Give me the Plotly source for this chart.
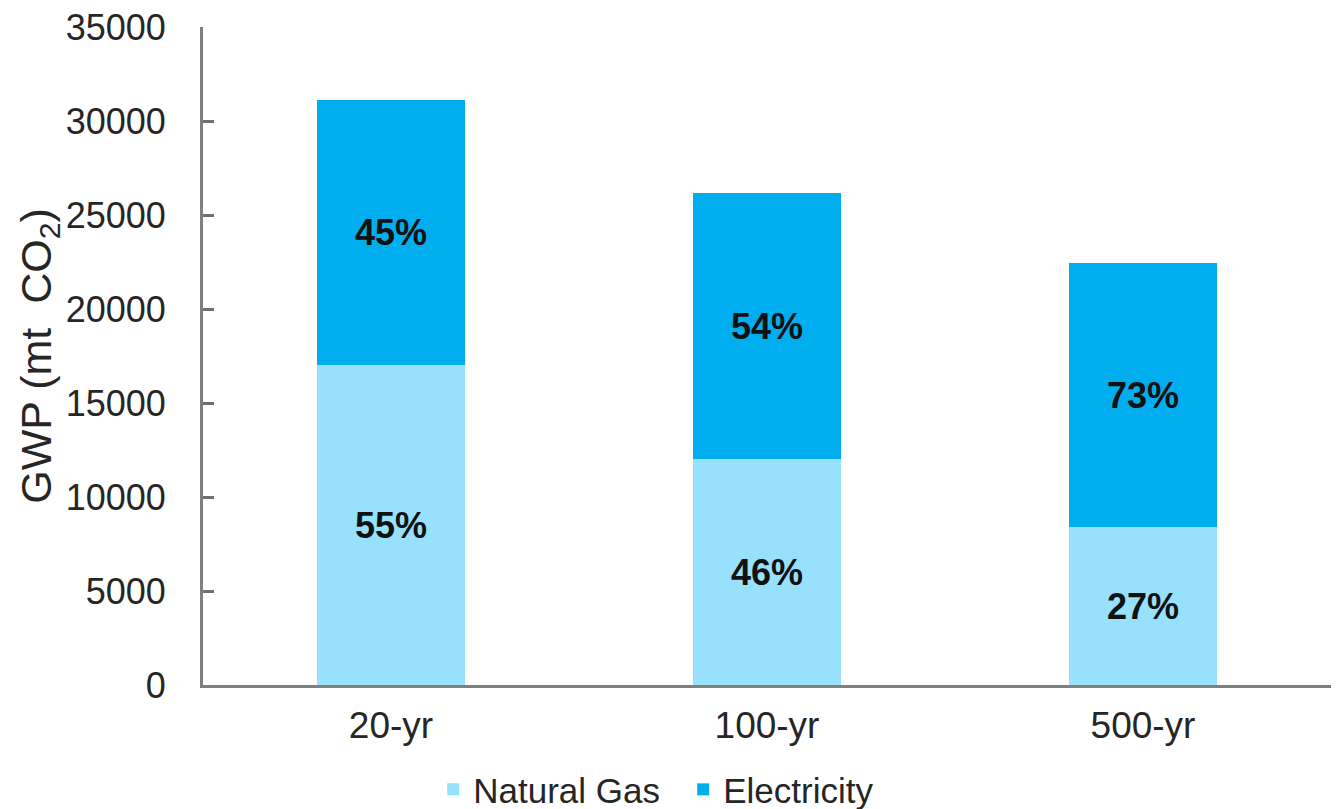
import plotly.graph_objects as go

categories = ["20-yr", "100-yr", "500-yr"]
natural_gas = [17000, 12000, 8400]
electricity = [14100, 14150, 14050]
ng_labels = ["55%", "46%", "27%"]
el_labels = ["45%", "54%", "73%"]

FONT = "Liberation Sans, Arial, sans-serif"

fig = go.Figure()
fig.add_trace(go.Bar(
    name="Natural Gas", x=categories, y=natural_gas, text=ng_labels,
    marker=dict(color="#97E1FD", line=dict(width=0)),
    textposition="inside", insidetextanchor="middle",
    textfont=dict(family=FONT, size=36, color="#111111", weight="bold"),
))
fig.add_trace(go.Bar(
    name="Electricity", x=categories, y=electricity, text=el_labels,
    marker=dict(color="#00AEEF", line=dict(width=0)),
    textposition="inside", insidetextanchor="middle",
    textfont=dict(family=FONT, size=36, color="#111111", weight="bold"),
))

fig.update_layout(
    barmode="stack",
    bargap=0.604,
    width=1337, height=809,
    margin=dict(l=203, r=6, t=27, b=124, autoexpand=False),
    paper_bgcolor="white", plot_bgcolor="white",
    font=dict(family=FONT, size=36, color="#262626"),
    uniformtext=dict(mode=False),
    showlegend=True,
    legend=dict(
        orientation="h", x=0.511, xref="container", xanchor="center",
        y=0.024, yref="container", yanchor="middle",
        font=dict(family=FONT, size=35, color="#262626"),
        itemwidth=30, traceorder="normal",
        entrywidth=205, entrywidthmode="pixels",
    ),
    xaxis=dict(
        showline=True, linecolor="#7f7f7f", linewidth=3,
        ticks="", showgrid=False, ticklabelstandoff=6,
        tickfont=dict(size=37), automargin=False,
    ),
    yaxis=dict(
        range=[0, 35000], dtick=5000, tickformat="d",
        showline=True, linecolor="#7f7f7f", linewidth=3,
        ticks="inside", ticklen=11, tickwidth=3, tickcolor="#6f6f6f",
        showgrid=False, zeroline=False, ticklabelstandoff=27,
        tickfont=dict(size=36), automargin=False,
        title=dict(text="GWP (mt&nbsp; CO<sub>2</sub>)", font=dict(size=43), standoff=1),
    ),
)

fig.write_html("out.html")
